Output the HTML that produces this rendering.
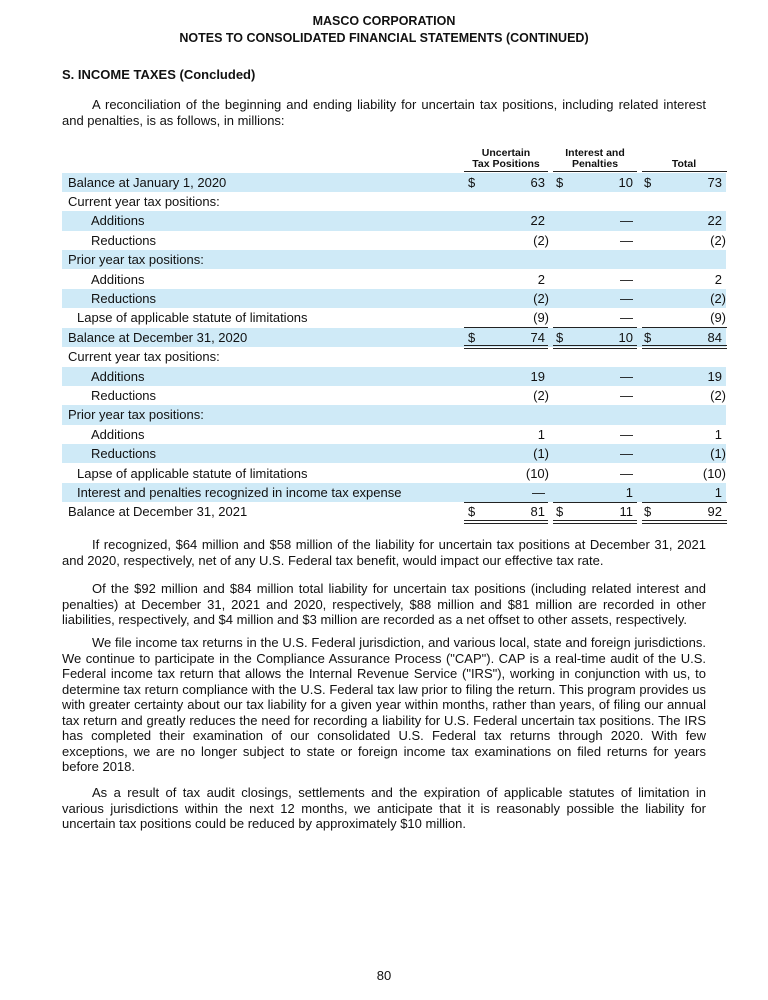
<!DOCTYPE html>
<html><head><meta charset="utf-8"><style>
body{margin:0;background:#fff;}
#p{position:relative;width:768px;height:1000px;font-family:"Liberation Sans",Arial,sans-serif;color:#111;font-size:13px;}
.a{position:absolute;white-space:nowrap;}
.c{position:absolute;left:0;width:768px;text-align:center;font-weight:bold;font-size:12.5px;}
.para{position:absolute;left:62px;width:644px;text-align:justify;line-height:15.5px;text-indent:30px;}
.row{position:absolute;left:62px;width:664px;height:19.4px;line-height:19.4px;}
.sh{background:#cfeaf7;}
.row span{position:absolute;}
.d{text-align:right;}
.ln{position:absolute;height:0;border-top:1px solid #222;}
.dl{position:absolute;height:2px;border-top:1px solid #222;border-bottom:1px solid #222;}
.h{position:absolute;font-weight:bold;font-size:10.5px;text-align:center;line-height:11px;}
</style></head><body><div id="p">
<div class="c" style="top:14px">MASCO CORPORATION</div>
<div class="c" style="top:31px">NOTES TO CONSOLIDATED FINANCIAL STATEMENTS (CONTINUED)</div>
<div class="a" style="left:62px;top:67px;font-weight:bold">S. INCOME TAXES (Concluded)</div>
<div class="para" style="top:97px">A reconciliation of the beginning and ending liability for uncertain tax positions, including related interest and penalties, is as follows, in millions:</div>

<div class="h" style="left:464px;width:84px;top:148px">Uncertain<br>Tax Positions</div>
<div class="h" style="left:553px;width:84px;top:148px">Interest and<br>Penalties</div>
<div class="h" style="left:642px;width:84px;top:159px">Total</div>
<div class="ln" style="left:464px;width:84px;top:171px"></div>
<div class="ln" style="left:553px;width:84px;top:171px"></div>
<div class="ln" style="left:642px;width:85px;top:171px"></div>

<div class="row sh" style="top:172.5px"><span style="left:6px">Balance at January 1, 2020</span><span style="left:406px">$</span><span class="d" style="right:181px">63</span><span style="left:494px">$</span><span class="d" style="right:93px">10</span><span style="left:582px">$</span><span class="d" style="right:4px">73</span></div>
<div class="row" style="top:191.9px"><span style="left:6px">Current year tax positions:</span></div>
<div class="row sh" style="top:211.3px"><span style="left:29px">Additions</span><span class="d" style="right:181px">22</span><span class="d" style="right:93px">—</span><span class="d" style="right:4px">22</span></div>
<div class="row" style="top:230.7px"><span style="left:29px">Reductions</span><span class="d" style="right:177px">(2)</span><span class="d" style="right:93px">—</span><span class="d" style="right:0px">(2)</span></div>
<div class="row sh" style="top:250.1px"><span style="left:6px">Prior year tax positions:</span></div>
<div class="row" style="top:269.5px"><span style="left:29px">Additions</span><span class="d" style="right:181px">2</span><span class="d" style="right:93px">—</span><span class="d" style="right:4px">2</span></div>
<div class="row sh" style="top:288.9px"><span style="left:29px">Reductions</span><span class="d" style="right:177px">(2)</span><span class="d" style="right:93px">—</span><span class="d" style="right:0px">(2)</span></div>
<div class="row" style="top:308.3px"><span style="left:15px">Lapse of applicable statute of limitations</span><span class="d" style="right:177px">(9)</span><span class="d" style="right:93px">—</span><span class="d" style="right:0px">(9)</span></div>
<div class="row sh" style="top:327.7px"><span style="left:6px">Balance at December 31, 2020</span><span style="left:406px">$</span><span class="d" style="right:181px">74</span><span style="left:494px">$</span><span class="d" style="right:93px">10</span><span style="left:582px">$</span><span class="d" style="right:4px">84</span></div>
<div class="row" style="top:347.1px"><span style="left:6px">Current year tax positions:</span></div>
<div class="row sh" style="top:366.5px"><span style="left:29px">Additions</span><span class="d" style="right:181px">19</span><span class="d" style="right:93px">—</span><span class="d" style="right:4px">19</span></div>
<div class="row" style="top:385.9px"><span style="left:29px">Reductions</span><span class="d" style="right:177px">(2)</span><span class="d" style="right:93px">—</span><span class="d" style="right:0px">(2)</span></div>
<div class="row sh" style="top:405.3px"><span style="left:6px">Prior year tax positions:</span></div>
<div class="row" style="top:424.7px"><span style="left:29px">Additions</span><span class="d" style="right:181px">1</span><span class="d" style="right:93px">—</span><span class="d" style="right:4px">1</span></div>
<div class="row sh" style="top:444.1px"><span style="left:29px">Reductions</span><span class="d" style="right:177px">(1)</span><span class="d" style="right:93px">—</span><span class="d" style="right:0px">(1)</span></div>
<div class="row" style="top:463.5px"><span style="left:15px">Lapse of applicable statute of limitations</span><span class="d" style="right:177px">(10)</span><span class="d" style="right:93px">—</span><span class="d" style="right:0px">(10)</span></div>
<div class="row sh" style="top:482.9px"><span style="left:15px">Interest and penalties recognized in income tax expense</span><span class="d" style="right:181px">—</span><span class="d" style="right:93px">1</span><span class="d" style="right:4px">1</span></div>
<div class="row" style="top:502.3px"><span style="left:6px">Balance at December 31, 2021</span><span style="left:406px">$</span><span class="d" style="right:181px">81</span><span style="left:494px">$</span><span class="d" style="right:93px">11</span><span style="left:582px">$</span><span class="d" style="right:4px">92</span></div>

<div class="ln" style="left:464px;width:84px;top:327px"></div><div class="ln" style="left:553px;width:84px;top:327px"></div><div class="ln" style="left:642px;width:85px;top:327px"></div>
<div class="dl" style="left:464px;width:84px;top:345px"></div><div class="dl" style="left:553px;width:84px;top:345px"></div><div class="dl" style="left:642px;width:85px;top:345px"></div>
<div class="ln" style="left:464px;width:84px;top:502px"></div><div class="ln" style="left:553px;width:84px;top:502px"></div><div class="ln" style="left:642px;width:85px;top:502px"></div>
<div class="dl" style="left:464px;width:84px;top:520px"></div><div class="dl" style="left:553px;width:84px;top:520px"></div><div class="dl" style="left:642px;width:85px;top:520px"></div>

<div class="para" style="top:537px">If recognized, $64 million and $58 million of the liability for uncertain tax positions at December 31, 2021 and 2020, respectively, net of any U.S. Federal tax benefit, would impact our effective tax rate.</div>
<div class="para" style="top:581px">Of the $92 million and $84 million total liability for uncertain tax positions (including related interest and penalties) at December 31, 2021 and 2020, respectively, $88 million and $81 million are recorded in other liabilities, respectively, and $4 million and $3 million are recorded as a net offset to other assets, respectively.</div>
<div class="para" style="top:635px">We file income tax returns in the U.S. Federal jurisdiction, and various local, state and foreign jurisdictions. We continue to participate in the Compliance Assurance Process ("CAP"). CAP is a real-time audit of the U.S. Federal income tax return that allows the Internal Revenue Service ("IRS"), working in conjunction with us, to determine tax return compliance with the U.S. Federal tax law prior to filing the return. This program provides us with greater certainty about our tax liability for a given year within months, rather than years, of filing our annual tax return and greatly reduces the need for recording a liability for U.S. Federal uncertain tax positions. The IRS has completed their examination of our consolidated U.S. Federal tax returns through 2020. With few exceptions, we are no longer subject to state or foreign income tax examinations on filed returns for years before 2018.</div>
<div class="para" style="top:785px">As a result of tax audit closings, settlements and the expiration of applicable statutes of limitation in various jurisdictions within the next 12 months, we anticipate that it is reasonably possible the liability for uncertain tax positions could be reduced by approximately $10 million.</div>
<div class="a" style="left:0;width:768px;text-align:center;top:968px">80</div>
</div></body></html>
